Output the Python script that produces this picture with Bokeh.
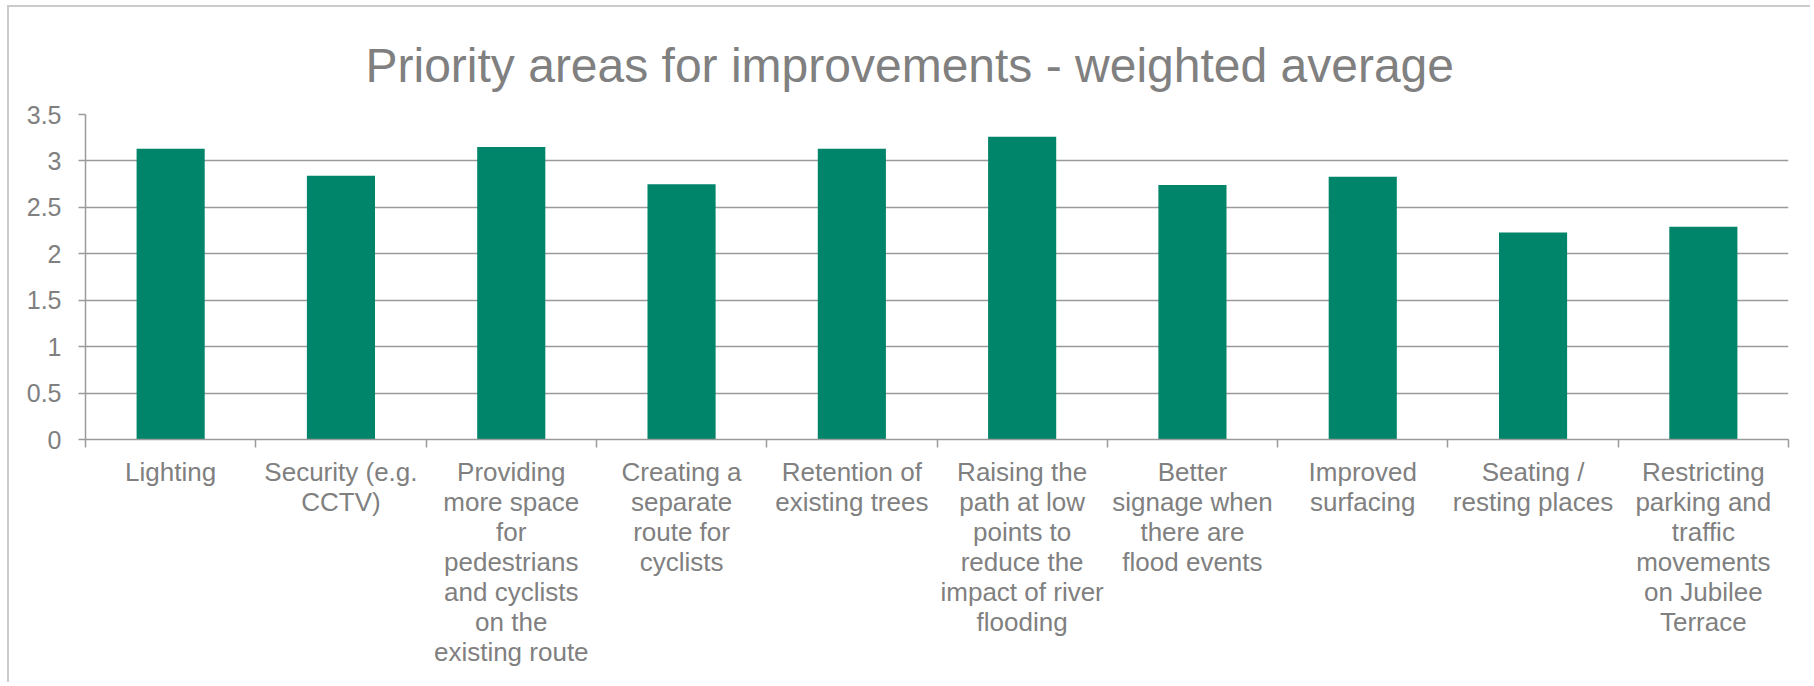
from bokeh.plotting import figure
from bokeh.models import Range1d, FixedTicker, CustomJSTickFormatter
from bokeh.embed import file_html
from bokeh.resources import INLINE

title = "Priority areas for improvements - weighted average"
categories = [
    "Lighting",
    "Security (e.g.\nCCTV)",
    "Providing\nmore space\nfor\npedestrians\nand cyclists\non the\nexisting route",
    "Creating a\nseparate\nroute for\ncyclists",
    "Retention of\nexisting trees",
    "Raising the\npath at low\npoints to\nreduce the\nimpact of river\nflooding",
    "Better\nsignage when\nthere are\nflood events",
    "Improved\nsurfacing",
    "Seating /\nresting places",
    "Restricting\nparking and\ntraffic\nmovements\non Jubilee\nTerrace",
]
values = [3.13, 2.84, 3.15, 2.75, 3.13, 3.26, 2.74, 2.83, 2.23, 2.29]
y_ticks = [0, 0.5, 1, 1.5, 2, 2.5, 3, 3.5]

FONT = "Liberation Sans"
TEXT = "#808080"
GRID = "#9a9a9a"
BAR = "#00856A"

n = len(categories)
xs = [i + 0.5 for i in range(n)]

p = figure(width=1803, height=677, output_backend="svg", toolbar_location=None,
           x_range=Range1d(0, n), y_range=Range1d(0, 3.5),
           min_border_left=76, min_border_right=24, min_border_top=107, min_border_bottom=245)
p.outline_line_color = None
p.styles = {"margin-left": "7px", "margin-top": "5px",
            "border-top": "2px solid #cbcbcb", "border-left": "2px solid #cbcbcb"}

p.vbar(x=xs, top=values, width=0.4, bottom=0, fill_color=BAR, line_color=None)

p.title.text = title
p.title.text_font = FONT
p.title.text_font_size = "48px"
p.title.text_color = TEXT
p.title.text_font_style = "normal"
p.title.align = "left"
p.title.offset = 280
p.title.standoff = 46

# x axis: labels at category centres, tick marks between categories
xa = p.xaxis[0]
xa.ticker = FixedTicker(ticks=xs, minor_ticks=list(range(n + 1)))
xa.formatter = CustomJSTickFormatter(args=dict(labels=categories),
                                     code="return labels[Math.floor(tick)] || '';")
xa.major_tick_out = 0
xa.major_tick_in = 0
xa.minor_tick_out = 8
xa.minor_tick_in = 0
xa.minor_tick_line_color = GRID
xa.minor_tick_line_width = 1.5
xa.axis_line_color = GRID
xa.axis_line_width = 1.5
xa.major_label_text_font = FONT
xa.major_label_text_font_size = "26px"
xa.major_label_text_color = TEXT
xa.major_label_text_line_height = 1.0
xa.major_label_standoff = 9
xa.major_label_orientation = "horizontal"

ya = p.yaxis[0]
ya.ticker = FixedTicker(ticks=y_ticks)
ya.formatter = CustomJSTickFormatter(code="return tick.toString();")
ya.major_tick_out = 7
ya.major_tick_in = 0
ya.minor_tick_out = 0
ya.minor_tick_in = 0
ya.major_tick_line_color = GRID
ya.major_tick_line_width = 1.5
ya.axis_line_color = GRID
ya.axis_line_width = 1.5
ya.major_label_text_font = FONT
ya.major_label_text_font_size = "25px"
ya.major_label_text_color = TEXT
ya.major_label_standoff = 17

p.xgrid.grid_line_color = None
p.ygrid.ticker = FixedTicker(ticks=y_ticks)
p.ygrid.grid_line_color = GRID
p.ygrid.grid_line_width = 1.5

open("out.html", "w").write(file_html(p, INLINE))
